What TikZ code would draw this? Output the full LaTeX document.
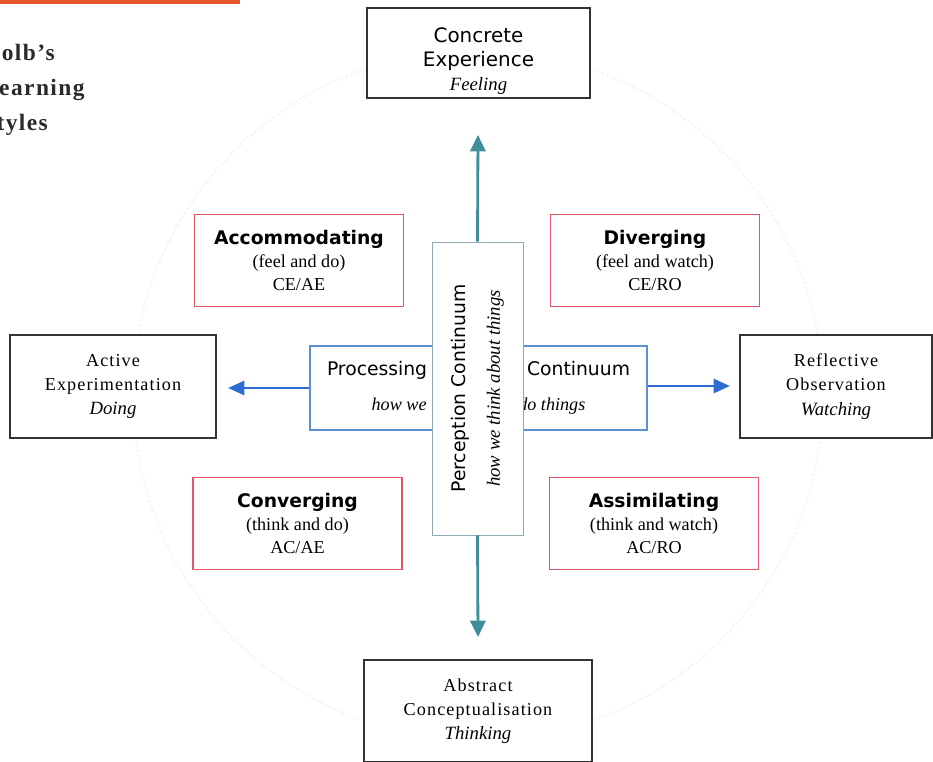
\documentclass[tikz,border=0pt]{standalone}
\usepackage{fontspec}
\setmainfont{Liberation Serif}
\setsansfont{DejaVu Sans}
\usetikzlibrary{arrows.meta}

\definecolor{titlered}{HTML}{E8552E}
\definecolor{titlegray}{HTML}{2A2A2A}
\definecolor{boxred}{HTML}{E2566A}
\definecolor{procblue}{HTML}{5B8FD6}
\definecolor{arrowblue}{HTML}{2F6CD4}
\definecolor{arrowteal}{HTML}{3F8E9B}
\definecolor{percgray}{HTML}{8FAAB3}

\newcommand{\sanstext}[1]{{\sffamily\fontsize{17}{20}\selectfont #1}}
\newcommand{\stylename}[1]{{\sffamily\bfseries\fontsize{16}{20}\selectfont #1}}
\newcommand{\serifline}[1]{{\fontsize{15.5}{20}\selectfont #1}}
\newcommand{\spacedline}[1]{{\addfontfeature{LetterSpace=6}\fontsize{15.5}{20}\selectfont #1}}
\newcommand{\verbline}[1]{{\itshape\fontsize{16}{20}\selectfont #1}}

\begin{document}
\begin{tikzpicture}[x=0.03cm, y=-0.03cm,
  modebox/.style={draw=black!80, line width=1.1pt, fill=white, align=center, inner sep=0pt,
    font=\fontsize{16}{20.6}\selectfont},
  stylebox/.style={draw=boxred, line width=1.1pt, fill=white, align=center, inner sep=0pt,
    font=\fontsize{16}{20}\selectfont, minimum width=6.27cm, minimum height=2.76cm},
  tealarrow/.style={arrowteal, line width=2.4pt, -{Triangle[length=14pt, width=13pt]}},
  bluearrow/.style={arrowblue, line width=2.4pt, -{Triangle[length=14pt, width=12pt]}}]

  \useasboundingbox (0,0) rectangle (933,761);
  \draw[black!4, dotted, line width=2pt] (478,395) circle [radius=345];

  % title in the corner
  \fill[titlered] (0,0) rectangle (240,4);
  \node[anchor=west, align=left, text=titlegray, inner sep=0pt,
    font=\addfontfeature{LetterSpace=6}\bfseries\fontsize{20}{30}\selectfont] (title) at (-18,90)
    {Kolb's\\Learning\\Styles};

  % the four modes
  \node[modebox, minimum width=6.69cm, minimum height=2.7cm] (ce) at (478.5,53)
    {\rule{0pt}{27pt}\sanstext{Concrete}\\\sanstext{Experience}\\\verbline{Feeling}};
  \node[modebox, minimum width=6.18cm, minimum height=3.09cm] (ae) at (113,386.5)
    {\spacedline{Active}\\\spacedline{Experimentation}\\\verbline{Doing}};
  \node[modebox, minimum width=5.76cm, minimum height=3.09cm] (ro) at (836,386.5)
    {\spacedline{Reflective}\\\spacedline{Observation}\\\verbline{Watching}};
  \node[modebox, minimum width=6.84cm, minimum height=3.06cm] (ac) at (478,711)
    {\spacedline{Abstract}\\\spacedline{Conceptualisation}\\\verbline{Thinking}};

  % the four styles
  \node[stylebox] (acc) at (299,260.5)
    {\stylename{Accommodating}\\\serifline{(feel and do)}\\\serifline{CE/AE}};
  \node[stylebox] (div) at (655,260.5)
    {\stylename{Diverging}\\\serifline{(feel and watch)}\\\serifline{CE/RO}};
  \node[stylebox] (con) at (297.5,523.5)
    {\stylename{Converging}\\\serifline{(think and do)}\\\serifline{AC/AE}};
  \node[stylebox] (ass) at (654,523.5)
    {\stylename{Assimilating}\\\serifline{(think and watch)}\\\serifline{AC/RO}};

  % processing continuum
  \node[draw=procblue, line width=1.1pt, fill=white, align=center, inner sep=0pt,
    minimum width=10.11cm, minimum height=2.52cm] (proc) at (478.5,388)
    {{\sffamily\fontsize{16}{19}\selectfont Processing\hspace{3.0cm}Continuum}\\[15pt]
     {\itshape\fontsize{15.5}{18}\selectfont how we\hspace{2.75cm}do things}};

  \coordinate (ae-tip) at (228,388);
  \coordinate (ro-tip) at (730,386);
  \draw[bluearrow] (proc.west) -- (ae-tip);
  \draw[bluearrow] (proc.east |- ro-tip) -- (ro-tip);

  % perception continuum
  \node[draw=percgray, line width=0.8pt, fill=white, align=center, inner sep=0pt, rotate=90,
    minimum width=8.79cm, minimum height=2.73cm] (perc) at (477.5,388.5)
    {{\sffamily\fontsize{16}{19}\selectfont Perception Continuum}\\[14pt]
     {\itshape\fontsize{16}{19}\selectfont how we think about things}};

  \coordinate (ce-tip) at (478,135);
  \coordinate (ac-tip) at (478,637);
  \draw[tealarrow] (perc.east) -- (ce-tip);
  \draw[tealarrow] (perc.west) -- (ac-tip);

\end{tikzpicture}
\end{document}
